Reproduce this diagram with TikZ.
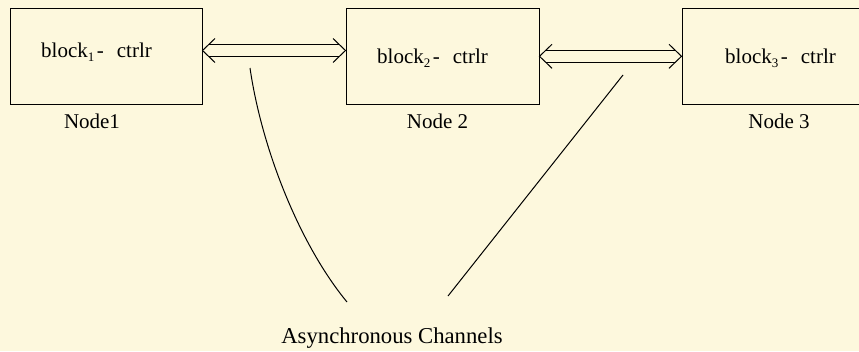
\documentclass[tikz,border=0pt]{standalone}
\usepackage{fontspec}
\setmainfont{Liberation Serif}
\usetikzlibrary{calc}
\definecolor{paper}{RGB}{253,248,221}
% controller label with a lowered index
\newcommand{\ctrllabel}[1]{block\raisebox{-4.5pt}{\fontsize{13}{14}\selectfont #1}\hspace{2.5pt}-\hspace{13pt}ctrlr}
\begin{document}
\begin{tikzpicture}[x=1pt,y=-1pt,
  box/.style={draw, line width=1pt, minimum width=#1, minimum height=96pt, inner sep=0pt},
  txt/.style={font=\fontsize{21}{24}\selectfont, inner sep=0pt},
  bigtxt/.style={font=\fontsize{22.7}{26}\selectfont, inner sep=0pt},
  wire/.style={line width=1pt},
]
% page and background
\fill[paper] (0,0) rectangle (859,351);
\useasboundingbox (0,0) rectangle (859,351);
\clip (0,0) rectangle (859,351);

% controller blocks
\node[box=192pt] (b1) at (106,56) {};
\node[box=193pt] (b2) at (442.5,56) {};
\node[box=198pt] (b3) at (781,56) {};

\node[txt, anchor=base west] (t1) at (41,57) {\ctrllabel{1}};
\node[txt, anchor=base west] (t2) at (377,63) {\ctrllabel{2}};
\node[txt, anchor=base west] (t3) at (725,63) {\ctrllabel{3}};

% node captions
\node[txt, anchor=base] (n1) at (92,128) {Node1};
\node[txt, anchor=base] (n2) at (437.5,128) {Node 2};
\node[txt, anchor=base] (n3) at (779,128) {Node 3};

% double-lined bidirectional channels
\coordinate (a1l) at ($(b1.east)+(0,-5.5)$);
\coordinate (a1r) at ($(b2.west)+(0,-5.5)$);
\coordinate (a2l) at ($(b2.east)+(0,0.3)$);
\coordinate (a2r) at ($(b3.west)+(0,0.3)$);
\foreach \l/\r in {a1l/a1r, a2l/a2r} {
  \draw[wire] ($(\l)+(12.5,-12)$) -- (\l) -- ($(\l)+(12.5,12)$);
  \draw[wire] ($(\r)+(-12.5,-12)$) -- (\r) -- ($(\r)+(-12.5,12)$);
  \draw[wire] ($(\l)+(6.25,-6)$) -- ($(\r)+(-6.25,-6)$);
  \draw[wire] ($(\l)+(6.25,6)$) -- ($(\r)+(-6.25,6)$);
}

% caption and pointers to the channels
\node[bigtxt, anchor=base] (ac) at (392,343) {Asynchronous Channels};
\coordinate (p1) at (250,68);
\coordinate (q1) at (347,302);
\coordinate (p2) at (623,75);
\coordinate (q2) at (448,296);
\draw[wire] (p1) .. controls (262,150) and (300,245) .. (q1);
\draw[wire] (p2) -- (q2);
\end{tikzpicture}
\end{document}
